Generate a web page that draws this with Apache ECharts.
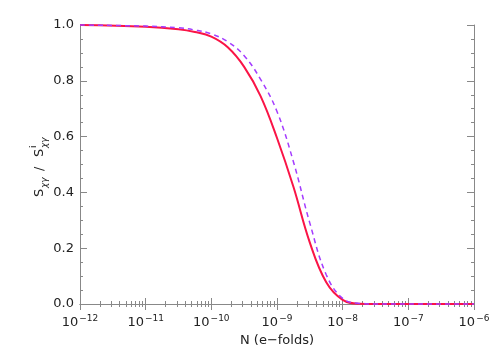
<!DOCTYPE html>
<html>
<head>
<meta charset="utf-8">
<script src="https://cdn.jsdelivr.net/npm/echarts@6/dist/echarts.min.js"></script>
<style>
  html, body { margin: 0; padding: 0; background: #fff; }
  #chart { width: 498px; height: 356px; }
</style>
</head>
<body>
<div id="chart"></div>
<script>
// log10 of N (e-folds) where the curves were read
var solidExp = [-12, -11, -10.5, -10.25, -10, -9.75, -9.5, -9.25, -9.0, -8.75, -8.5, -8.25, -8.0, -7.75, -7.5, -7, -6];
var solidVal = [1.0, 0.994, 0.985, 0.975, 0.958, 0.92, 0.85, 0.745, 0.595, 0.42, 0.22, 0.078, 0.015, 0.001, 0.0, 0.0, 0.0];

var dashExp = [-12, -11, -10.5, -10.25, -10, -9.75, -9.5, -9.25, -9.0, -8.75, -8.5, -8.25, -8.0, -7.75, -7.5, -7, -6];
var dashVal = [1.0, 0.996, 0.99, 0.982, 0.968, 0.94, 0.89, 0.805, 0.69, 0.51, 0.29, 0.105, 0.02, 0.002, 0.0, 0.0, 0.0];

var xMin = 1e-12, xMax = 1e-6;

function pairs(exps, vals) {
  return exps.map(function (e, i) { return [Math.pow(10, e), vals[i]]; });
}

var FONT = 'DejaVu Sans';
var TXT = '#222';
var AX = '#888';

var chart = echarts.init(document.getElementById('chart'));

var xCommon = {
  type: 'log', logBase: 10, min: xMin, max: xMax,
  axisLine: { show: true, lineStyle: { color: AX, width: 1 } },
  axisTick: { show: true, inside: true, length: 6, lineStyle: { color: AX } },
  minorTick: { show: true, splitNumber: 9, length: 3, lineStyle: { color: AX } },
  splitLine: { show: false }
};
var yCommon = {
  type: 'value', min: 0, max: 1, interval: 0.2,
  axisLine: { show: true, lineStyle: { color: AX, width: 1 } },
  axisTick: { show: true, inside: true, length: 7, lineStyle: { color: AX } },
  minorTick: { show: true, splitNumber: 4, length: 3, lineStyle: { color: AX } },
  splitLine: { show: false }
};

var option = {
  animation: false,
  grid: { left: 80, right: 24, top: 25, bottom: 52 },
  xAxis: [
    Object.assign({}, xCommon, {
      position: 'bottom',
      name: 'N (e\u2212folds)', nameLocation: 'middle', nameGap: 26,
      nameTextStyle: { fontFamily: FONT, fontSize: 13, color: TXT },
      axisLabel: {
        margin: 10,
        fontFamily: FONT, color: TXT,
        formatter: function (v) {
          var e = Math.round(Math.log10(v));
          return '{b|10}{s|\u2212' + Math.abs(e) + '}';
        },
        rich: {
          b: { fontFamily: FONT, fontSize: 13, color: TXT },
          s: { fontFamily: FONT, fontSize: 9, color: TXT, verticalAlign: 'top', padding: [0, 0, 8, 1] }
        }
      }
    }),
    Object.assign({}, xCommon, { position: 'top', axisLabel: { show: false } })
  ],
  yAxis: [
    Object.assign({}, yCommon, {
      position: 'left',
      axisLabel: {
        margin: 6, fontFamily: FONT, fontSize: 13, color: TXT,
        formatter: function (v) { return v.toFixed(1); }
      }
    }),
    Object.assign({}, yCommon, { position: 'right', axisLabel: { show: false } })
  ],
  graphic: [{
    type: 'group', x: 40, y: 165, rotation: Math.PI / 2,
    children: [
      { type: 'text', x: -32, y: 0, style: { text: 'S', font: '13px ' + FONT, fill: TXT, verticalAlign: 'middle' } },
      { type: 'text', x: -23, y: 5, style: { text: '\u03c7\u03b3', font: 'italic 9px ' + FONT, fill: TXT, verticalAlign: 'middle' } },
      { type: 'text', x: -6, y: 0, style: { text: '/', font: '13px ' + FONT, fill: TXT, verticalAlign: 'middle' } },
      { type: 'text', x: 8, y: 0, style: { text: 'S', font: '13px ' + FONT, fill: TXT, verticalAlign: 'middle' } },
      { type: 'text', x: 17, y: -6, style: { text: 'i', font: '9px ' + FONT, fill: TXT, verticalAlign: 'middle' } },
      { type: 'text', x: 17, y: 5, style: { text: '\u03c7\u03b3', font: 'italic 9px ' + FONT, fill: TXT, verticalAlign: 'middle' } }
    ]
  }],
  series: [
    {
      type: 'line', name: 'solid', xAxisIndex: 0, yAxisIndex: 0,
      data: pairs(solidExp, solidVal), smooth: 0.4, showSymbol: false, clip: false,
      lineStyle: { color: '#fa1446', width: 2, type: 'solid' }
    },
    {
      type: 'line', name: 'dashed', xAxisIndex: 0, yAxisIndex: 0,
      data: pairs(dashExp, dashVal), smooth: 0.4, showSymbol: false, clip: false,
      lineStyle: { color: '#a43cff', width: 1.5, type: [5, 4] }
    }
  ]
};
chart.setOption(option);
</script>
</body>
</html>
